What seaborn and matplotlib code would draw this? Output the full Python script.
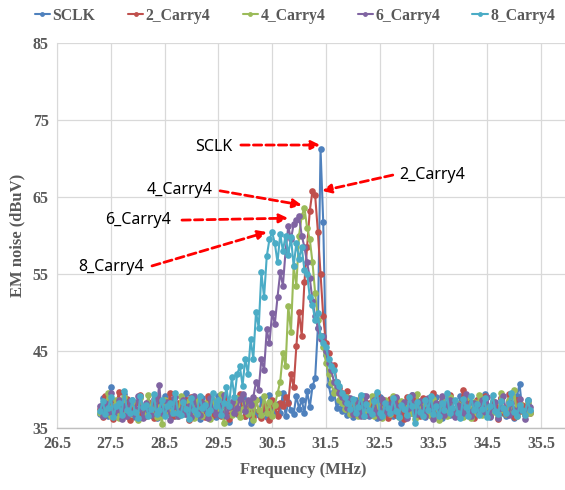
import numpy as np
import pandas as pd
import matplotlib
matplotlib.use("Agg")
import matplotlib.pyplot as plt
import seaborn as sns

# Frequency sweep grid (MHz): 27.30 ... 35.30, step 0.05
FREQ_START = 27.30
FREQ_STEP = 0.05
N_POINTS = 161

series_names = ["SCLK", "2_Carry4", "4_Carry4", "6_Carry4", "8_Carry4"]

sclk = [
    36.8, 38.9, 37.2, 36.5, 40.3, 37.6, 36.9, 38.1, 37.0, 39.4,
    36.6, 37.8, 38.7, 36.4, 37.3, 39.0, 36.8, 37.5, 38.2, 36.7,
    37.9, 36.3, 38.4, 37.1, 39.2, 36.9, 37.6, 38.8, 36.5, 37.4,
    38.0, 36.8, 39.5, 37.2, 36.6, 38.3, 37.7, 36.2, 38.9, 37.0,
    36.7, 38.5, 37.3, 36.4, 39.1, 37.8, 36.9, 38.2, 35.8, 37.5,
    38.6, 36.8, 37.4, 39.0, 36.5, 37.9, 35.6, 38.3, 37.1, 36.7,
    38.8, 37.2, 36.4, 39.3, 37.6, 36.9, 38.1, 37.0, 39.6, 36.6,
    38.4, 37.3, 36.8, 39.2, 37.5, 38.7, 36.9, 39.8, 37.7, 40.4,
    41.5, 48.0, 71.2, 61.7, 44.5, 40.6, 38.9, 39.8, 37.6, 38.5,
    37.2, 38.3, 36.7, 37.9, 36.4, 38.6, 37.3, 36.9, 39.1, 37.5,
    36.6, 38.2, 37.8, 36.3, 39.0, 37.1, 36.8, 38.5, 37.4, 36.5,
    38.9, 37.0, 35.7, 38.1, 37.6, 36.9, 39.3, 37.2, 36.6, 38.4,
    37.7, 36.4, 38.8, 37.1, 36.9, 39.0, 37.5, 36.3, 38.2, 37.8,
    36.7, 38.6, 37.0, 36.5, 39.2, 37.4, 36.8, 38.0, 37.3, 36.6,
    38.7, 37.1, 36.9, 39.4, 37.6, 36.4, 38.3, 37.2, 36.8, 38.9,
    37.0, 36.6, 38.5, 37.7, 36.3, 39.1, 40.7, 37.4, 36.9, 38.1,
    37.2,
]

carry2 = [
    37.5, 36.4, 39.2, 37.0, 38.6, 36.2, 37.8, 39.7, 36.9, 37.3,
    38.8, 36.1, 37.6, 38.2, 36.7, 39.3, 37.1, 36.5, 38.4, 37.9,
    36.3, 38.9, 37.4, 36.8, 38.1, 37.2, 39.5, 36.6, 37.7, 38.3,
    36.9, 37.5, 38.7, 36.0, 39.0, 37.3, 36.8, 38.5, 37.1, 36.4,
    39.2, 37.6, 36.7, 38.4, 37.0, 36.5, 38.9, 37.8, 36.2, 38.1,
    37.3, 36.9, 39.4, 37.5, 36.6, 38.2, 37.0, 36.4, 38.7, 37.2,
    36.3, 38.0, 37.4, 36.1, 38.6, 37.7, 36.5, 38.3, 37.9, 39.0,
    38.2, 42.0, 40.3, 45.6, 50.1, 47.0, 53.9, 58.5, 63.2, 65.8,
    65.2, 60.5, 55.0, 49.5, 46.0, 44.8, 42.5, 43.2, 41.0, 40.2,
    39.5, 38.6, 39.8, 37.4, 38.5, 36.8, 37.9, 39.1, 36.5, 37.6,
    38.3, 36.9, 37.2, 39.4, 36.6, 38.0, 37.5, 36.3, 38.8, 37.0,
    36.7, 38.4, 37.8, 36.2, 39.0, 37.3, 36.9, 38.6, 37.1, 36.5,
    38.9, 37.4, 36.8, 38.2, 39.6, 37.0, 36.4, 38.5, 37.7, 36.9,
    39.3, 37.2, 36.6, 38.1, 37.5, 39.9, 36.7, 38.4, 37.0, 36.3,
    38.7, 37.6, 36.9, 39.1, 37.3, 36.5, 38.3, 37.8, 36.2, 38.9,
    37.1, 36.8, 39.4, 37.5, 36.4, 38.6, 37.2, 38.0, 36.7, 37.4,
    36.9,
]

carry4 = [
    36.9, 38.1, 37.4, 39.6, 36.5, 37.8, 38.7, 36.3, 37.2, 39.0,
    37.5, 36.8, 38.4, 37.1, 36.0, 38.9, 37.6, 36.7, 39.3, 37.0,
    38.2, 36.4, 37.7, 35.5, 38.6, 37.3, 36.9, 38.0, 37.4, 36.6,
    39.1, 37.2, 36.8, 38.5, 37.9, 36.3, 38.8, 37.0, 36.5, 38.3,
    37.6, 36.2, 38.7, 37.3, 36.9, 39.4, 35.6, 37.8, 38.1, 36.7,
    37.1, 38.9, 36.4, 37.5, 38.3, 36.8, 37.9, 36.1, 38.6, 37.3,
    36.7, 39.2, 37.0, 38.4, 36.5, 38.0, 39.5, 41.0, 44.8, 43.0,
    50.8, 47.5, 56.0, 53.5, 60.0, 62.5, 63.6, 61.0, 59.5, 56.5,
    52.5, 49.0, 47.0, 45.5, 43.5, 42.0, 40.8, 39.6, 40.2, 38.7,
    38.2, 37.5, 39.0, 36.8, 38.4, 37.2, 36.6, 38.9, 37.7, 36.9,
    37.4, 39.2, 36.5, 38.0, 37.6, 36.3, 38.7, 37.1, 36.8, 39.1,
    37.3, 36.4, 38.5, 37.9, 36.7, 38.2, 37.0, 36.2, 39.4, 37.6,
    36.9, 38.3, 37.2, 36.5, 38.8, 37.4, 36.1, 38.6, 37.8, 36.6,
    39.0, 37.5, 36.8, 38.1, 37.3, 36.4, 38.9, 37.7, 36.3, 38.4,
    37.0, 39.3, 36.7, 38.2, 37.6, 36.9, 38.5, 37.1, 36.4, 39.6,
    37.3, 36.8, 38.7, 37.5, 40.0, 36.6, 38.1, 37.2, 36.9, 38.4,
    37.0,
]

carry6 = [
    37.8, 36.6, 38.3, 37.1, 39.5, 36.9, 37.4, 38.7, 36.2, 37.9,
    36.5, 38.5, 37.0, 36.8, 39.1, 37.6, 36.3, 38.2, 37.3, 36.7,
    38.8, 37.2, 40.6, 36.9, 37.5, 38.4, 36.1, 37.7, 39.0, 36.6,
    37.3, 38.6, 36.8, 37.9, 36.4, 39.2, 37.1, 36.7, 38.3, 37.5,
    36.3, 38.9, 37.4, 36.8, 38.1, 37.0, 39.3, 36.5, 37.7, 38.4,
    36.9, 37.6, 38.8, 39.4, 37.2, 38.6, 38.0, 39.0, 41.0, 40.0,
    44.0, 42.5, 47.8, 46.0, 50.0, 48.5, 52.0, 55.2, 53.5, 58.0,
    61.2, 59.5, 61.5, 62.0, 62.5, 60.0, 58.5, 56.5, 54.5, 51.5,
    49.5, 48.0, 46.5, 47.0, 45.0, 43.5, 42.5, 41.0, 40.5, 39.5,
    39.0, 38.4, 37.6, 38.9, 36.8, 37.4, 38.2, 36.5, 37.9, 39.2,
    36.7, 37.3, 38.6, 37.0, 36.4, 38.8, 37.5, 36.9, 38.1, 37.2,
    39.0, 36.6, 37.8, 38.4, 36.3, 37.6, 39.3, 37.1, 36.8, 38.5,
    37.4, 36.5, 38.9, 37.7, 36.2, 38.3, 37.0, 39.1, 36.7, 37.9,
    38.6, 37.3, 36.4, 38.0, 37.6, 36.9, 39.4, 37.2, 36.6, 38.2,
    37.5, 36.8, 38.7, 37.1, 39.0, 36.5, 37.8, 38.4, 36.3, 37.6,
    39.2, 37.0, 36.7, 38.3, 37.4, 36.9, 38.8, 37.3, 36.2, 38.6,
    37.7,
]

carry8 = [
    37.2, 38.5, 36.8, 37.6, 39.0, 36.4, 37.9, 38.2, 36.7, 39.8,
    37.4, 36.9, 38.6, 37.1, 36.3, 39.2, 37.7, 38.0, 36.6, 37.5,
    39.4, 36.8, 37.3, 38.7, 36.5, 37.8, 38.3, 36.9, 39.6, 37.0,
    36.7, 38.4, 37.5, 36.2, 38.9, 37.3, 36.8, 39.1, 37.6, 38.0,
    36.9, 37.4, 39.5, 37.8, 38.6, 36.7, 38.2, 40.3, 37.9, 41.6,
    39.0, 42.0, 43.0, 40.5, 44.0, 42.0, 46.5, 44.0, 50.1, 48.0,
    55.2, 52.0, 57.3, 59.5, 60.4, 59.0, 56.5, 60.2, 58.0, 60.0,
    57.5, 59.8, 56.0, 59.0, 57.0, 58.5, 55.5, 55.0, 52.0, 51.0,
    49.0, 50.0, 47.0, 46.0, 45.5, 44.0, 43.0, 42.5, 41.0, 40.5,
    39.5, 39.0, 38.2, 37.5, 38.8, 36.9, 37.7, 39.3, 36.6, 38.1,
    37.4, 36.8, 38.5, 39.7, 37.0, 36.5, 38.3, 37.6, 36.9, 38.9,
    37.2, 36.4, 38.0, 37.5, 36.7, 39.0, 37.8, 35.6, 38.4, 37.1,
    36.6, 38.7, 37.3, 39.2, 36.8, 37.9, 36.5, 38.2, 37.4, 39.5,
    36.9, 37.6, 38.6, 37.0, 36.3, 38.8, 37.7, 36.6, 39.1, 37.3,
    38.1, 36.7, 37.5, 38.9, 36.4, 37.8, 39.3, 37.2, 36.8, 38.5,
    37.6, 36.9, 38.3, 39.6, 37.1, 36.5, 38.0, 37.4, 36.7, 38.6,
    37.3,
]

colors = ["#4F81BD", "#C0504D", "#9BBB59", "#8064A2", "#4BACC6"]

x_ticks = [26.5, 27.5, 28.5, 29.5, 30.5, 31.5, 32.5, 33.5, 34.5, 35.5]
y_ticks = [35, 45, 55, 65, 75, 85]

freq = np.round(FREQ_START + FREQ_STEP * np.arange(N_POINTS), 2)
all_values = [sclk, carry2, carry4, carry6, carry8]
for v in all_values:
    assert len(v) == N_POINTS, len(v)

df = pd.concat(
    [pd.DataFrame({"Frequency": freq, "EM": vals, "Series": name})
     for name, vals in zip(series_names, all_values)],
    ignore_index=True,
)

sns.set_style("white")
plt.rcParams["font.family"] = ["Liberation Serif", "DejaVu Serif"]

fig = plt.figure(figsize=(5.65, 4.9), dpi=100)
ax = fig.add_axes([57 / 565, 62 / 490, (565 - 57) / 565, 385 / 490])

sns.lineplot(
    data=df, x="Frequency", y="EM", hue="Series", hue_order=series_names,
    palette=colors, estimator=None, marker="o", markersize=4.8,
    markeredgewidth=0, linewidth=1.5, ax=ax, legend=True, zorder=3,
)

ax.set_xlim(26.5, 35.945)
ax.set_ylim(35, 85)
ax.set_xticks(x_ticks)
ax.set_yticks(y_ticks)
ax.set_xticklabels([f"{t:.1f}" for t in x_ticks])
ax.set_yticklabels([str(t) for t in y_ticks])
ax.grid(True, color="#D9D9D9", linewidth=0.9, zorder=0)
ax.set_axisbelow(True)
for s in ["top", "right"]:
    ax.spines[s].set_visible(False)
ax.spines["left"].set_color("#D9D9D9")
ax.spines["bottom"].set_color("#BFBFBF")
ax.spines["bottom"].set_linewidth(1.0)
ax.tick_params(axis="both", length=0, pad=6, labelsize=11.5, labelcolor="#595959")
for lab in ax.get_xticklabels() + ax.get_yticklabels():
    lab.set_fontweight("bold")

ax.set_xlabel("Frequency (MHz)", fontsize=12, fontweight="bold", color="#595959")
ax.set_ylabel("EM noise (dBuV)", fontsize=12, fontweight="bold", color="#595959")
ax.xaxis.set_label_coords((303 - 57) / 508, -0.088)
ax.yaxis.set_label_coords(-0.063, 0.5)

handles, labels = ax.get_legend_handles_labels()
ax.get_legend().remove()
leg = fig.legend(
    handles, labels, loc="upper center", bbox_to_anchor=(0.522, 1.013), ncol=5,
    frameon=False, handlelength=1.0, handletextpad=0.15, columnspacing=2.05,
    prop={"family": ["Liberation Serif"], "weight": "bold", "size": 11.3},
)
for t in leg.get_texts():
    t.set_color("#595959")
for h in leg.legend_handles:
    h.set_markersize(3.5)

# Annotations (axes-fraction layout)
annots = [
    ("SCLK", (0.309, 0.730), (0.362, 0.735), (0.518, 0.735)),
    ("2_Carry4", (0.738, 0.657), (0.661, 0.657), (0.522, 0.616)),
    ("4_Carry4", (0.242, 0.618), (0.321, 0.616), (0.482, 0.579)),
    ("6_Carry4", (0.159, 0.540), (0.246, 0.540), (0.455, 0.545)),
    ("8_Carry4", (0.106, 0.418), (0.187, 0.421), (0.413, 0.509)),
]
for text, tpos, tail, head in annots:
    ax.text(*tpos, text, transform=ax.transAxes, ha="center", va="center",
            fontsize=11.5, fontweight="bold", family=["Noto Sans", "DejaVu Sans"],
            color="black", zorder=6)
    ax.annotate("", xy=head, xytext=tail, xycoords="axes fraction",
                textcoords="axes fraction",
                arrowprops=dict(arrowstyle="-|>", color="red", lw=2,
                                linestyle=(0, (3, 1.5)), mutation_scale=13,
                                shrinkA=0, shrinkB=0),
                zorder=6)

fig.savefig("out.png", dpi=100)
